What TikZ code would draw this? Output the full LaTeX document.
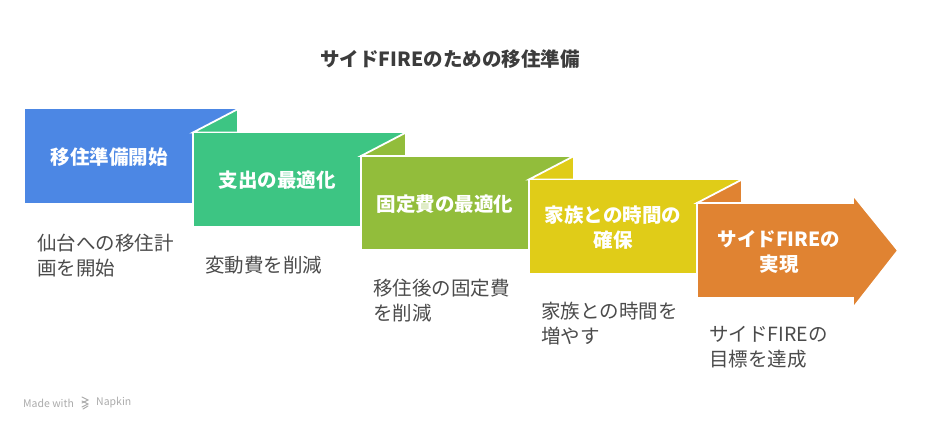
\documentclass[tikz,border=0pt]{standalone}
\usepackage{fontspec}
\setmainfont{Noto Sans CJK JP}
\definecolor{moveblue}{HTML}{4C87E4}
\definecolor{spendgreen}{HTML}{3DC583}
\definecolor{fixedolive}{HTML}{92BD3B}
\definecolor{familyyellow}{HTML}{E0CC18}
\definecolor{fireorange}{HTML}{E08332}
\definecolor{titlegray}{HTML}{3C3C3C}
\definecolor{notegray}{HTML}{4B4B4B}
\definecolor{footgray}{HTML}{ABABAB}
\begin{document}
\begin{tikzpicture}[x=1pt,y=-1pt,
  blockshape/.style={draw=white,line width=1.8pt,line join=miter},
  blocklabel/.style={text=white,font=\bfseries\fontsize{19.5}{25}\selectfont,align=center,inner sep=0pt},
  blocknote/.style={text=notegray,font=\fontsize{19.5}{25}\selectfont,align=left,anchor=west,inner sep=0pt}]
\useasboundingbox (0,0) rectangle (925,430);
% title
\node [text=titlegray,font=\bfseries\fontsize{19.5}{24}\selectfont] (title) at (450,59) {サイドFIREのための移住準備};
% blocks, each with a flap folded up onto the one before
\fill [moveblue](25,109) rectangle (238,203);
\filldraw [fill=spendgreen,blockshape](193,132.5) -- (238,109) -- (238,132.5) -- cycle;
\filldraw [fill=spendgreen,blockshape](193,132.5) rectangle (406,226.5);
\filldraw [fill=fixedolive,blockshape](361,156) -- (406,132.5) -- (406,156) -- cycle;
\filldraw [fill=fixedolive,blockshape](361,156) rectangle (574,250);
\filldraw [fill=familyyellow,blockshape](529,179.5) -- (574,156) -- (574,179.5) -- cycle;
\filldraw [fill=familyyellow,blockshape](529,179.5) rectangle (742,273.5);
\filldraw [fill=fireorange,blockshape](697,203) -- (742,179.5) -- (742,203) -- cycle;
\filldraw [fill=fireorange,blockshape](697,203) -- (853,203) -- (853,195) -- (898,250.5) -- (853,308) -- (853,298) -- (697,298) -- cycle;
% block labels
\node [blocklabel] (start) at (109,157) {移住準備開始};
\node [blocklabel] (spend) at (277,180.5) {支出の最適化};
\node [blocklabel] (fixed) at (445,204) {固定費の最適化};
\node [blocklabel] (family) at (613,228) {家族との時間の\\確保};
\node [blocklabel] (fire) at (779,251.5) {サイドFIREの\\実現};
% notes under the blocks
\node [blocknote] (startnote) at (37,255.5) {仙台への移住計\\画を開始};
\node [blocknote] (spendnote) at (205,265) {変動費を削減};
\node [blocknote] (fixednote) at (373,300.5) {移住後の固定費\\を削減};
\node [blocknote] (familynote) at (541,324) {家族との時間を\\増やす};
\node [blocknote] (firenote) at (709,347.5) {サイドFIREの\\目標を達成};
% footer
\node [text=footgray,font=\fontsize{10.5}{12}\selectfont,anchor=west,inner sep=0pt] (made) at (23,403) {Made with};
\draw [footgray,line width=1pt,line cap=round](82,397) -- (88,400) -- (82,403);
\draw [footgray,line width=1pt,line cap=round](82,401) -- (88,404) -- (82,407);
\draw [footgray,line width=1pt,line cap=round](83,409) -- (88,406);
\node [text=footgray,font=\fontsize{10.5}{12}\selectfont,anchor=west,inner sep=0pt] (napkin) at (96,403) {Napkin};
\end{tikzpicture}
\end{document}
